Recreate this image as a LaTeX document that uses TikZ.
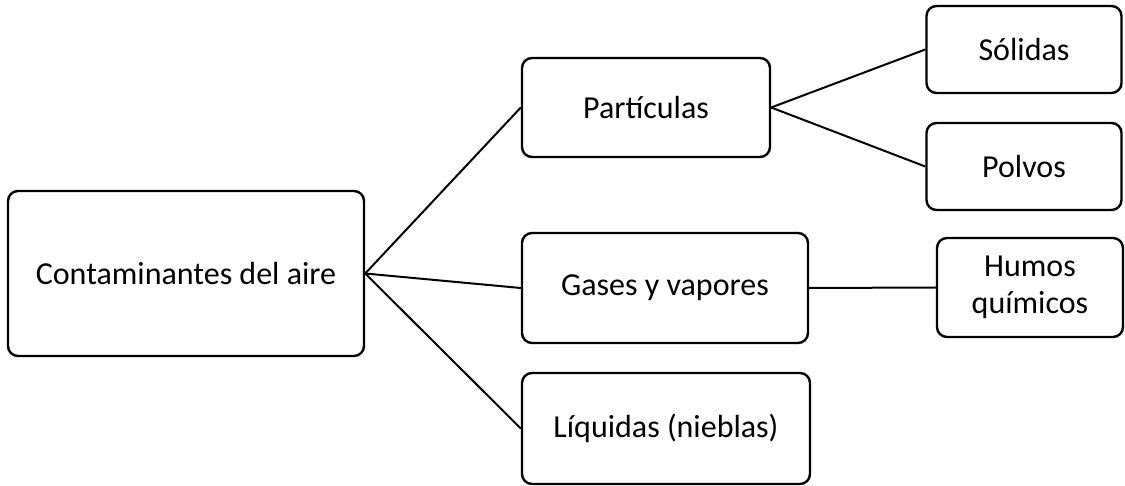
\documentclass[tikz,border=0pt]{standalone}
\usepackage{fontspec}
\setmainfont{Carlito}
\begin{document}
\begin{tikzpicture}[x=1pt,y=-1pt,
  box/.style={draw=black, line width=2.4pt, rounded corners=10pt, inner sep=0pt, align=center, font=\fontsize{32}{37}\selectfont},
  link/.style={draw=black, line width=2pt}]
\useasboundingbox (0,0) rectangle (1125,486);
\node[box, minimum width=356pt, minimum height=165pt] (c) at (186,273.5) {Contaminantes del aire};
\node[box, minimum width=248pt, minimum height=99pt] (p) at (646,107.5) {Partículas};
\node[box, minimum width=195pt, minimum height=87pt] (s) at (1024,49.5) {Sólidas};
\node[box, minimum width=195pt, minimum height=87pt] (pv) at (1024,166.5) {Polvos};
\node[box, minimum width=286pt, minimum height=110pt] (g) at (665,288) {Gases y vapores};
\node[box, minimum width=186pt, minimum height=99pt] (h) at (1030,287.5) {Humos\\químicos};
\node[box, minimum width=288pt, minimum height=111pt] (l) at (666,428.5) {Líquidas (nieblas)};
\draw[link] (c.east) -- (p.west);
\draw[link] (c.east) -- (g.west);
\draw[link] (c.east) -- (l.west);
\draw[link] (p.east) -- (s.west);
\draw[link] (p.east) -- (pv.west);
\draw[link] (g.east) -- (h.west);
\end{tikzpicture}
\end{document}
